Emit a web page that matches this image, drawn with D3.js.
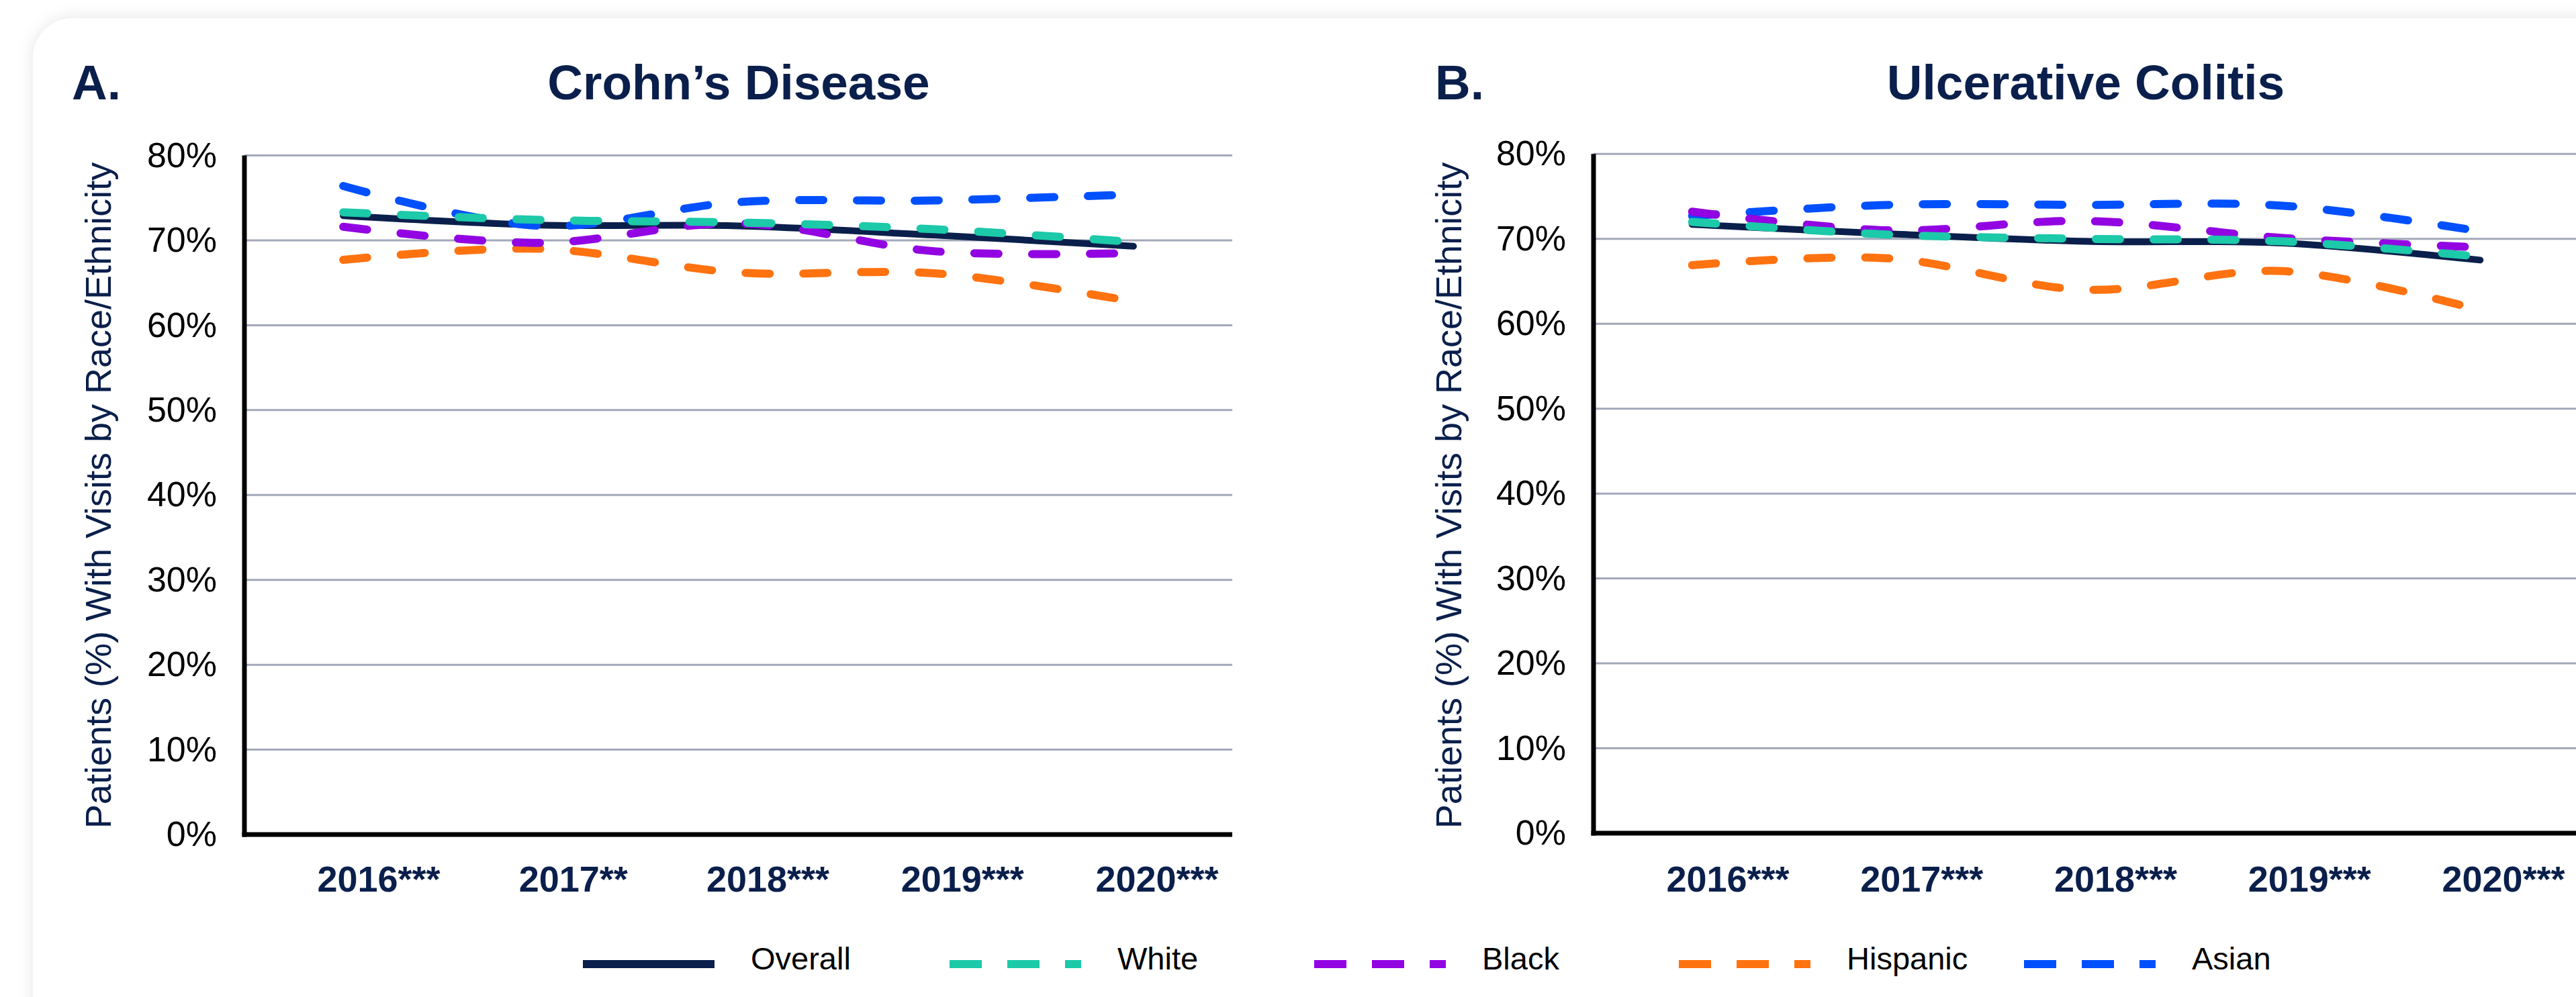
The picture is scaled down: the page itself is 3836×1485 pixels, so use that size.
<!DOCTYPE html>
<html>
<head>
<meta charset="utf-8">
<script src="https://cdn.jsdelivr.net/npm/d3@7"></script>
<style>
  html, body { margin: 0; padding: 0; background: #ffffff; }
  svg { display: block; }
  text { font-family: "Liberation Sans", Arial, Helvetica, sans-serif; }
</style>
</head>
<body>
<svg id="chart" width="3836" height="1485"></svg>
<script>
// ---- data ----
const years = ["2016", "2017", "2018", "2019", "2020"];
const cdLabels = ["2016***", "2017**", "2018***", "2019***", "2020***"];
const ucLabels = ["2016***", "2017***", "2018***", "2019***", "2020***"];
const seriesNames = ["Overall", "White", "Black", "Hispanic", "Asian"];
const yTicks = [0, 10, 20, 30, 40, 50, 60, 70, 80];

// Crohn's disease: % of patients with visits
const cdOverall  = [72.9, 71.8, 71.7, 70.6, 69.3];
const cdWhite    = [73.3, 72.4, 72.1, 71.3, 69.8];
const cdBlack    = [71.6, 69.7, 72.0, 68.7, 68.5];
const cdHispanic = [67.7, 69.0, 66.2, 66.1, 62.8];
const cdAsian    = [76.4, 71.7, 74.5, 74.7, 75.4];

// Ulcerative colitis: % of patients with visits
const ucOverall  = [71.7, 70.6, 69.7, 69.5, 67.5];
const ucWhite    = [72.0, 70.5, 70.0, 69.7, 67.9];
const ucBlack    = [73.2, 71.0, 72.1, 70.1, 69.0];
const ucHispanic = [66.9, 67.7, 64.0, 66.2, 61.6];
const ucAsian    = [72.7, 74.0, 74.0, 73.9, 70.9];

// ---- styling ----
const NAVY = "#0a1f4b";
const colors = {
  Overall: NAVY,
  White: "#1cc9a9",
  Black: "#9204e2",
  Hispanic: "#ff7210",
  Asian: "#0050ff"
};
const drawOrder = ["Overall", "Asian", "Hispanic", "Black", "White"];

const svg = d3.select("#chart");

// card background with soft shadow
const defs = svg.append("defs");
const shadow = defs.append("filter").attr("id", "cardShadow")
  .attr("x", "-5%").attr("y", "-5%").attr("width", "110%").attr("height", "110%");
shadow.append("feDropShadow")
  .attr("dx", 0).attr("dy", 0).attr("stdDeviation", 12)
  .attr("flood-color", "#000").attr("flood-opacity", 0.10);

svg.append("rect").attr("width", 3836).attr("height", 1485).attr("fill", "#ffffff");
svg.append("rect")
  .attr("x", 49).attr("y", 27).attr("width", 3900).attr("height", 1600)
  .attr("rx", 60).attr("ry", 60)
  .attr("fill", "#ffffff")
  .attr("filter", "url(#cardShadow)");

const panels = [
  {
    letter: "A.", letterX: 107, title: "Crohn\u2019s Disease", titleX: 1100,
    labels: cdLabels,
    data: { Overall: cdOverall, White: cdWhite, Black: cdBlack, Hispanic: cdHispanic, Asian: cdAsian },
    x0: 364, x1: 1835, yTop: 231.5, yBottom: 1243, yTitleX: 165
  },
  {
    letter: "B.", letterX: 2137, title: "Ulcerative Colitis", titleX: 3106,
    labels: ucLabels,
    data: { Overall: ucOverall, White: ucWhite, Black: ucBlack, Hispanic: ucHispanic, Asian: ucAsian },
    x0: 2373, x1: 3840, yTop: 229.3, yBottom: 1241, yTitleX: 2176
  }
];

panels.forEach(p => {
  const g = svg.append("g");
  const x = d3.scalePoint().domain(years).range([p.x0, p.x1]).padding(0.5);
  const xLab = d3.scalePoint().domain(years).range([p.x0 + 200, p.x1 - 112]);
  const y = d3.scaleLinear().domain([0, 80]).range([p.yBottom, p.yTop]);

  // panel letter and title
  g.append("text").attr("x", p.letterX).attr("y", 148)
    .attr("font-size", 73).attr("font-weight", "bold").attr("fill", NAVY)
    .text(p.letter);
  g.append("text").attr("x", p.titleX).attr("y", 148)
    .attr("text-anchor", "middle")
    .attr("font-size", 73).attr("font-weight", "bold").attr("fill", NAVY)
    .text(p.title);

  // horizontal gridlines
  g.append("g").selectAll("line")
    .data(yTicks.filter(t => t > 0))
    .join("line")
    .attr("x1", p.x0).attr("x2", p.x1)
    .attr("y1", d => y(d)).attr("y2", d => y(d))
    .attr("stroke", "#a3a9ba").attr("stroke-width", 3);

  // y axis with percentage labels
  const yAxis = g.append("g")
    .attr("transform", `translate(${p.x0},0)`)
    .call(d3.axisLeft(y).tickValues(yTicks).tickFormat(d => d + "%").tickSize(0).tickPadding(41));
  yAxis.select(".domain").remove();
  yAxis.selectAll("text")
    .attr("font-size", 52).attr("fill", "#000")
    .attr("font-family", "\"Liberation Sans\", Arial, sans-serif");

  // axis lines
  g.append("line")
    .attr("x1", p.x0).attr("x2", p.x0)
    .attr("y1", y(80)).attr("y2", y(0) + 3.5)
    .attr("stroke", "#000").attr("stroke-width", 7);
  g.append("line")
    .attr("x1", p.x0 - 3.5).attr("x2", p.x1)
    .attr("y1", y(0)).attr("y2", y(0))
    .attr("stroke", "#000").attr("stroke-width", 7);

  // category labels
  g.append("g").selectAll("text")
    .data(years)
    .join("text")
    .attr("x", d => xLab(d))
    .attr("y", 1328)
    .attr("text-anchor", "middle")
    .attr("font-size", 54).attr("font-weight", "bold").attr("fill", NAVY)
    .text((d, i) => p.labels[i]);

  // y axis title
  g.append("text")
    .attr("transform", `translate(${p.yTitleX},738) rotate(-90)`)
    .attr("text-anchor", "middle")
    .attr("font-size", 54).attr("fill", NAVY)
    .text("Patients (%) With Visits by Race/Ethnicity");

  // series lines
  const line = d3.line()
    .x((d, i) => x(years[i]))
    .y(d => y(d))
    .curve(d3.curveCatmullRom.alpha(0.5));

  drawOrder.forEach(name => {
    const path = g.append("path")
      .datum(p.data[name])
      .attr("d", line)
      .attr("fill", "none")
      .attr("stroke", colors[name])
      .attr("stroke-linecap", "round")
      .attr("stroke-linejoin", "round");
    if (name === "Overall") {
      path.attr("stroke-width", 10);
    } else {
      path.attr("stroke-width", 12).attr("stroke-dasharray", "36 50");
    }
  });
});

// ---- legend ----
const legendX = [868, 1414, 1957, 2500, 3014];
const legendY = 1436;
const legend = svg.append("g");
seriesNames.forEach((name, i) => {
  const lx = legendX[i];
  const mark = legend.append("line")
    .attr("x1", lx).attr("x2", lx + 196)
    .attr("y1", legendY).attr("y2", legendY)
    .attr("stroke", colors[name]).attr("stroke-width", 12);
  if (name !== "Overall") mark.attr("stroke-dasharray", "48 38");
  legend.append("text")
    .attr("x", lx + 250).attr("y", legendY + 8)
    .attr("font-size", 47).attr("fill", "#000")
    .text(name);
});
</script>
</body>
</html>
